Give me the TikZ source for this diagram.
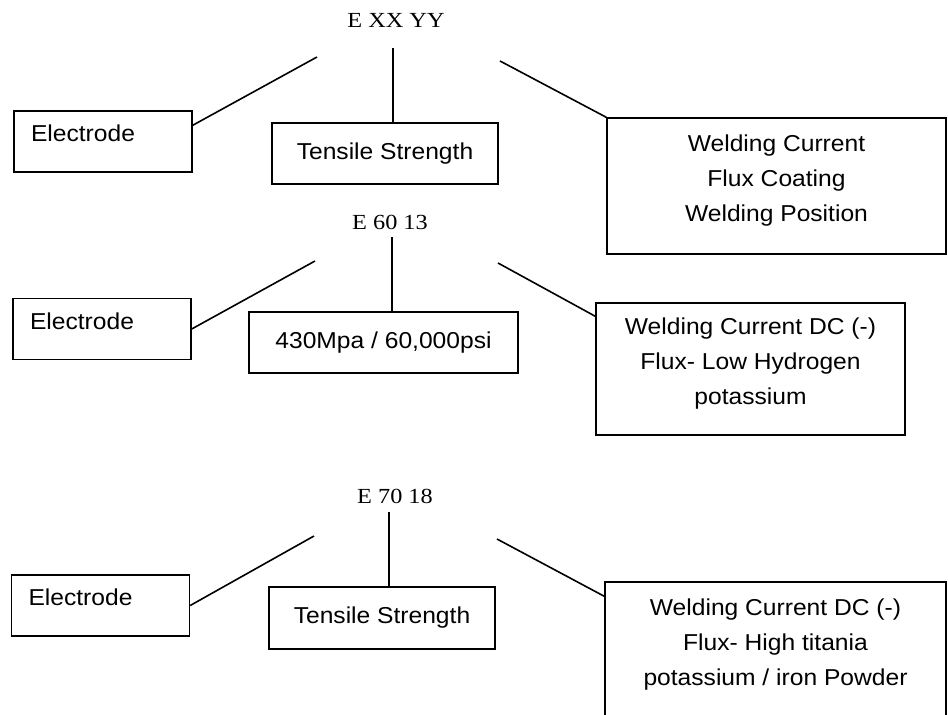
\documentclass[tikz,border=0pt]{standalone}
\usepackage{fontspec}
\setmainfont[FakeStretch=1.07]{Liberation Sans}
\newfontfamily\labserif[FakeStretch=1.13]{Liberation Serif}
\usetikzlibrary{calc}
\begin{document}
\begin{tikzpicture}[x=1pt,y=-1pt,
  boxbase/.style={draw, line width=1.4pt, inner sep=0pt, font=\fontsize{23}{35}\selectfont},
  elbox/.style={boxbase, text width=144pt, inner xsep=17pt, inner ysep=0pt, align=left,
                text height=10pt, text depth=10pt, minimum height=61pt},
  tsbox/.style={boxbase, align=center},
  bigbox/.style={boxbase, align=center, text depth=16pt},
  codelabel/.style={font=\labserif\fontsize{21.5}{24}\selectfont, anchor=base, inner sep=0pt},
  conn/.style={line width=1.6pt}]
\useasboundingbox (0,0) rectangle (948,715);
\clip (0,0) rectangle (948,715);

% ---------- Section 1 ----------
\node[codelabel] (c1) at (396,27) {E XX YY};
\node[elbox] (e1) at (103,141.5) {Electrode};
\node[tsbox, minimum width=226pt, minimum height=61pt] (t1) at (385,153.5) {Tensile Strength};
\node[bigbox, minimum width=339pt, minimum height=136pt] (b1) at (776.5,186)
  {Welding Current\\Flux Coating\\Welding Position};
\coordinate (l1) at (317,57);
\coordinate (v1) at (393,48);
\coordinate (r1) at (500,61);
\draw[conn] (l1) -- ($(e1.north east)+(0,15)$);
\draw[conn] (v1) -- (v1 |- t1.north);
\draw[conn] (r1) -- (b1.north west);

% ---------- Section 2 ----------
\node[codelabel] (c2) at (390,229) {E 60 13};
\node[elbox] (e2) at (102,329) {Electrode};
\node[tsbox, minimum width=269pt, minimum height=61pt] (t2) at (383.5,342.5) {430Mpa / 60,000psi};
\node[bigbox, minimum width=309pt, minimum height=132pt] (b2) at (750.5,369)
  {Welding Current DC (-)\\Flux- Low Hydrogen\\potassium};
\coordinate (l2) at (315,261);
\coordinate (v2) at (392,237);
\coordinate (r2) at (498,263);
\draw[conn] (l2) -- (e2.east);
\draw[conn] (v2) -- (v2 |- t2.north);
\draw[conn] (r2) -- ($(b2.north west)+(0,14)$);

% ---------- Section 3 ----------
\node[codelabel] (c3) at (395,503) {E 70 18};
\node[elbox] (e3) at (100.5,605.5) {Electrode};
\node[tsbox, minimum width=226pt, minimum height=62pt] (t3) at (382,618) {Tensile Strength};
\node[bigbox, minimum width=341pt, minimum height=137pt] (b3) at (775.5,650.5)
  {Welding Current DC (-)\\Flux- High titania\\potassium / iron Powder};
\coordinate (l3) at (314,536);
\coordinate (v3) at (389,512);
\coordinate (r3) at (497,539);
\draw[conn] (l3) -- (e3.east);
\draw[conn] (v3) -- (v3 |- t3.north);
\draw[conn] (r3) -- ($(b3.north west)+(0,15)$);
\end{tikzpicture}
\end{document}
